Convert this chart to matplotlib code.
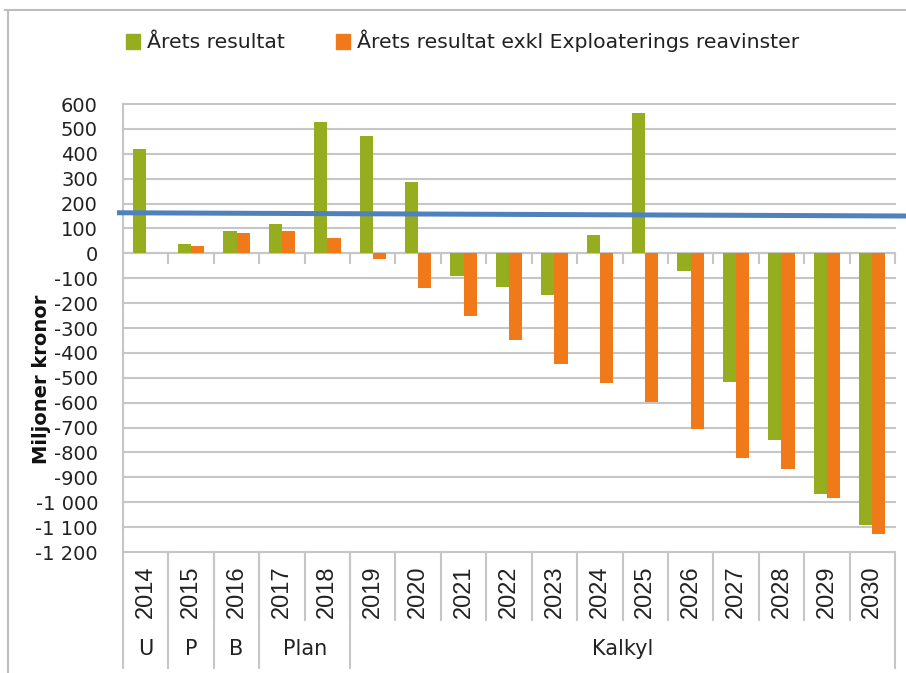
import numpy as np
import matplotlib.pyplot as plt
from matplotlib.lines import Line2D
from matplotlib.patches import Patch

years = ['2014', '2015', '2016', '2017', '2018', '2019', '2020', '2021', '2022',
         '2023', '2024', '2025', '2026', '2027', '2028', '2029', '2030']
arets_resultat = [420, 37, 91, 118, 529, 470, 288, -91, -135, -168, 74, 565,
                  -70, -516, -748, -968, -1093]
exkl_reavinster = [0, 31, 82, 88, 63, -23, -138, -251, -349, -445, -519, -599,
                   -705, -822, -865, -985, -1126]
groups = ['U', 'P', 'B', 'Plan', 'Kalkyl']
group_sizes = [1, 1, 1, 2, 12]
yticks = list(range(-1200, 700, 100))
ytick_labels = [f'{v:,}'.replace(',', ' ') for v in yticks]
# hand-drawn blue line (start/end level, in Mkr)
blue_line_y = [163, 150]

green = '#97ad20'
orange = '#f07a19'
grey = '#c6c6c6'

fig = plt.figure(figsize=(9.06, 6.73), dpi=100)
ax = fig.add_axes([123 / 906, 1 - 552 / 673, (895 - 123) / 906, (552 - 104) / 673])

x = np.arange(len(years))
w = 0.29
ax.bar(x - w / 2, arets_resultat, w, color=green, zorder=3)
ax.bar(x + w / 2, exkl_reavinster, w, color=orange, zorder=3)

ax.set_xlim(-0.5, len(years) - 0.5)
ax.set_ylim(-1200, 600)
ax.set_yticks(yticks, ytick_labels)
ax.tick_params(axis='y', length=0, pad=18, labelsize=14, labelcolor='#222222')
ax.yaxis.grid(True, color=grey, lw=1.5)
ax.set_axisbelow(True)
for gl in ax.get_ygridlines():
    gl.set_clip_on(False)

for s in ['top', 'right']:
    ax.spines[s].set_visible(False)
ax.spines['left'].set_color(grey)
ax.spines['left'].set_linewidth(1.5)
ax.spines['bottom'].set_position(('data', 0))
ax.spines['bottom'].set_color(grey)
ax.spines['bottom'].set_linewidth(1.5)
ax.set_xticks(np.arange(0.5, len(years), 1.0))
ax.tick_params(axis='x', direction='out', length=8, width=1.5, color=grey,
               labelbottom=False)

# category table under the plot
tr = ax.get_xaxis_transform()
row1 = -68 / 448
row2 = -116 / 448
for i in range(1, len(years)):
    ax.plot([i - 0.5, i - 0.5], [0, row1], transform=tr, color=grey, lw=1.5,
            clip_on=False)
for i, yr in enumerate(years):
    ax.text(i, -40 / 448, yr, transform=tr, rotation=90, ha='center', va='center',
            fontsize=17, family='Liberation Sans', color='#222222')

edges = np.concatenate([[0], np.cumsum(group_sizes)]) - 0.5
for e in edges:
    ax.plot([e, e], [0, row2], transform=tr, color=grey, lw=1.5, clip_on=False)
for g, a, b in zip(groups, edges[:-1], edges[1:]):
    ax.text((a + b) / 2, -97 / 448, g, transform=tr, ha='center', va='center',
            fontsize=15, color='#222222')

# blue line, runs past the plot to the right edge
ax.plot([-0.5 - 6 / 45.4, len(years) - 0.5 + 11 / 45.4], blue_line_y,
        color='#4f81bd', lw=3.6, zorder=5, clip_on=False, solid_capstyle='butt')

fig.text(42 / 906, 1 - 379 / 673, 'Miljoner kronor', rotation=90, ha='center',
         va='center', fontsize=14, fontweight='bold', color='#111111')

handles = [Patch(color=green, label='Årets resultat'),
           Patch(color=orange, label='Årets resultat exkl Exploaterings reavinster')]
fig.legend(handles=handles, loc='center left', bbox_to_anchor=(126 / 906, 1 - 41 / 673),
           ncol=2, frameon=False, fontsize=14.7, handlelength=0.68, handleheight=0.74,
           handletextpad=0.34, columnspacing=2.5, borderpad=0, borderaxespad=0,
           labelcolor='#222222')

# outer frame
fig.add_artist(Line2D([8 / 906, 8 / 906], [0, 1 - 10 / 673], transform=fig.transFigure,
                      color='#bdbdbd', lw=1.5))
fig.add_artist(Line2D([5 / 906, 1], [1 - 10 / 673, 1 - 10 / 673], transform=fig.transFigure,
                      color='#bdbdbd', lw=1.5))

fig.savefig('out.png', dpi=100)
